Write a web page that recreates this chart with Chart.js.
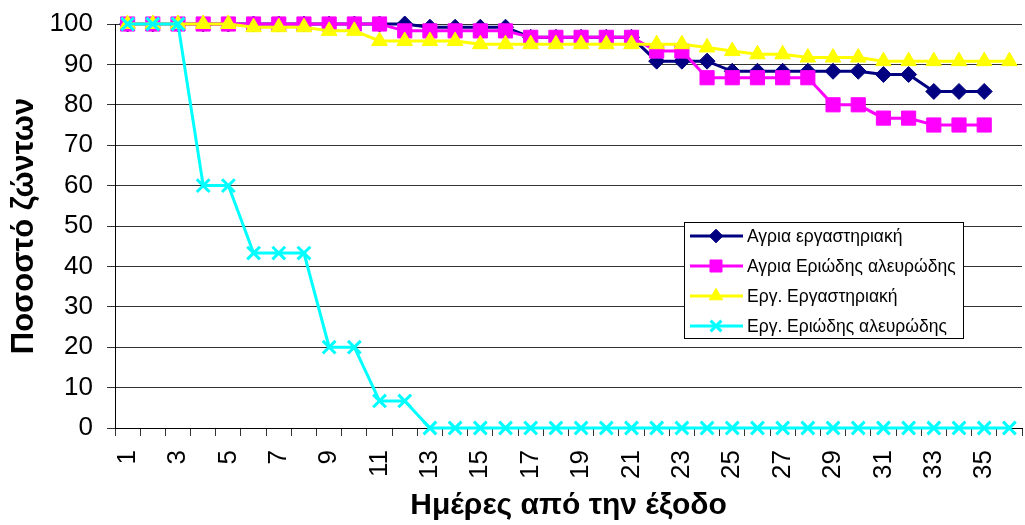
<!DOCTYPE html>
<html>
<head>
<meta charset="utf-8">
<script src="https://cdn.jsdelivr.net/npm/chart.js"></script>
<style>
	body { margin: 0; background: #fff; }
	canvas { display: block; }
</style>
</head>
<body>
<canvas id="chart" width="1025" height="525"></canvas>
<script>
const days = [1, 2, 3, 4, 5, 6, 7, 8, 9, 10, 11, 12, 13, 14, 15, 16, 17, 18,
	19, 20, 21, 22, 23, 24, 25, 26, 27, 28, 29, 30, 31, 32, 33, 34, 35, 36];

const seriesNames = [
	"Αγρια εργαστηριακή",
	"Αγρια Εριώδης αλευρώδης",
	"Εργ. Εργαστηριακή",
	"Εργ. Εριώδης αλευρώδης",
];

const wildLab = [100, 100, 100, 100, 100, 100, 100, 100, 100, 100, 100, 100,
	99.2, 99.2, 99.2, 99.2, 96.7, 96.7, 96.7, 96.7, 96.7, 90.8, 90.8, 90.8,
	88.3, 88.3, 88.3, 88.3, 88.3, 88.3, 87.5, 87.5, 83.3, 83.3, 83.3];

const wildWoolly = [100, 100, 100, 100, 100, 100, 100, 100, 100, 100, 100,
	98.3, 98.3, 98.3, 98.3, 98.3, 96.7, 96.7, 96.7, 96.7, 96.7, 93.3, 93.3,
	86.7, 86.7, 86.7, 86.7, 86.7, 80, 80, 76.7, 76.7, 75, 75, 75];

const labLab = [100, 100, 100, 100, 100, 99.2, 99.2, 99.2, 98.3, 98.3,
	95.8, 95.8, 95.8, 95.8, 95, 95, 95, 95, 95, 95, 95, 95, 95, 94.2, 93.3,
	92.5, 92.5, 91.7, 91.7, 91.7, 90.8, 90.8, 90.8, 90.8, 90.8, 90.8];

const labWoolly = [100, 100, 100, 60, 60, 43.3, 43.3, 43.3, 20, 20, 6.7, 6.7,
	0, 0, 0, 0, 0, 0, 0, 0, 0, 0, 0, 0, 0, 0, 0, 0, 0, 0, 0, 0, 0, 0, 0, 0];

const yTicks = [0, 10, 20, 30, 40, 50, 60, 70, 80, 90, 100];

const FONT = "'Liberation Sans', Arial, sans-serif";

const makeSet = (label, data, color, style, radius, order) => ({
	label,
	data,
	borderColor: color,
	backgroundColor: color,
	borderWidth: 3,
	pointStyle: style,
	pointRadius: radius,
	pointHoverRadius: radius,
	pointBackgroundColor: color,
	pointBorderColor: color,
	pointBorderWidth: style === "crossRot" ? 3 : 1,
	tension: 0,
	clip: false,
	order,
});

// legend drawn inside the plot, like the original
const boxLegend = {
	id: "boxLegend",
	afterDatasetsDraw(chart) {
		const { ctx } = chart;
		const x0 = 684, y0 = 222, w = 279, h = 116, row = 30;
		ctx.save();
		ctx.fillStyle = "#fff";
		ctx.fillRect(x0, y0, w, h);
		ctx.strokeStyle = "#000";
		ctx.lineWidth = 1;
		ctx.strokeRect(x0 + 0.5, y0 + 0.5, w, h);
		chart.data.datasets.forEach((ds, i) => {
			const y = y0 + 14 + i * row;
			ctx.strokeStyle = ds.borderColor;
			ctx.lineWidth = 3;
			ctx.beginPath();
			ctx.moveTo(690, y);
			ctx.lineTo(743, y);
			ctx.stroke();
			ctx.fillStyle = ds.pointBackgroundColor;
			ctx.strokeStyle = ds.pointBorderColor;
			ctx.lineWidth = ds.pointBorderWidth;
			Chart.helpers.drawPoint(ctx, {
				pointStyle: ds.pointStyle,
				radius: ds.pointRadius * 0.85,
				rotation: 0,
				borderWidth: ds.pointBorderWidth,
			}, 716, y);
			ctx.fillStyle = "#000";
			ctx.font = "17.5px " + FONT;
			ctx.textBaseline = "middle";
			ctx.textAlign = "left";
			ctx.fillText(ds.label, 747, y + 1);
		});
		ctx.restore();
	},
};

new Chart(document.getElementById("chart"), {
	type: "line",
	plugins: [boxLegend],
	data: {
		labels: days,
		datasets: [
			makeSet(seriesNames[0], wildLab, "#000080", "rectRot", 8, 4),
			makeSet(seriesNames[1], wildWoolly, "#ff00ff", "rect", 10, 3),
			makeSet(seriesNames[2], labLab, "#ffff00", "triangle", 9, 2),
			makeSet(seriesNames[3], labWoolly, "#00ffff", "crossRot", 9, 1),
		],
	},
	options: {
		responsive: false,
		animation: false,
		devicePixelRatio: 1,
		layout: {
			autoPadding: false,
			padding: { top: 24, right: 3, left: 0, bottom: 0 },
		},
		plugins: {
			legend: { display: false },
			tooltip: { enabled: false },
		},
		scales: {
			x: {
				type: "category",
				offset: true,
				grid: {
					offset: true,
					drawOnChartArea: false,
					drawTicks: true,
					tickLength: 8,
					color: "#333",
				},
				border: { color: "#000", width: 1 },
				ticks: {
					autoSkip: false,
					minRotation: 90,
					maxRotation: 90,
					padding: 14,
					color: "#000",
					font: { family: FONT, size: 26 },
					callback(value, index) {
						return index % 2 === 0 ? this.getLabelForValue(value) : "";
					},
				},
				title: {
					display: true,
					text: "Ημέρες από την έξοδο",
					color: "#000",
					font: { family: FONT, size: 30, weight: "bold" },
					padding: { bottom: 1 },
				},
				afterFit(scale) {
					scale.height = 97;
					scale.paddingLeft = 0;
					scale.paddingRight = 0;
				},
			},
			y: {
				min: yTicks[0],
				max: yTicks[yTicks.length - 1],
				grid: { color: "#333", tickLength: 8 },
				border: { color: "#000", width: 1 },
				afterBuildTicks(scale) {
					scale.ticks = yTicks.map(v => ({ value: v }));
				},
				ticks: {
					padding: 14,
					color: "#000",
					font: { family: FONT, size: 26 },
				},
				title: {
					display: true,
					text: "Ποσοστό ζώντων",
					color: "#000",
					font: { family: FONT, size: 31, weight: "bold" },
					padding: { top: 6 },
				},
				afterFit(scale) {
					scale.width = 115;
					scale.paddingTop = 0;
					scale.paddingBottom = 0;
				},
			},
		},
	},
});
</script>
</body>
</html>
